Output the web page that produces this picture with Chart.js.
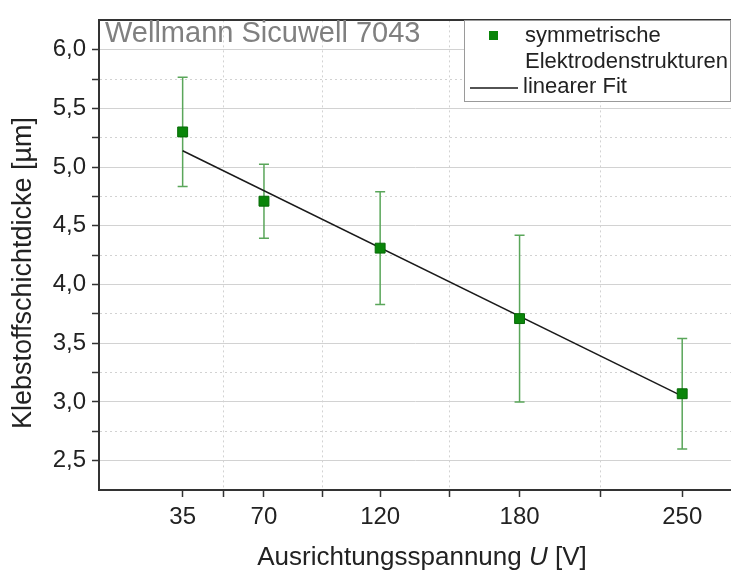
<!DOCTYPE html>
<html>
<head>
<meta charset="utf-8">
<script src="https://cdn.jsdelivr.net/npm/chart.js@4.4.1/dist/chart.umd.min.js"></script>
<style>
  html, body { margin: 0; padding: 0; background: #fff; }
</style>
</head>
<body>
<canvas id="chart" width="731" height="571"></canvas>
<script>
// ---------- Data ----------
const voltages = [35, 70, 120, 180, 250];
const thickness = [5.30, 4.71, 4.31, 3.71, 3.07];
const thicknessErr = [0.465, 0.315, 0.48, 0.71, 0.47];

const fitX = [35, 250];
const fitY = [5.14, 3.05];

const xMajorTicks = [35, 70, 120, 180, 250];
const xMinorTicks = [52.5, 95, 150, 215];
const yMajorTicks = [2.5, 3.0, 3.5, 4.0, 4.5, 5.0, 5.5, 6.0];
const yMinorTicks = [2.75, 3.25, 3.75, 4.25, 4.75, 5.25, 5.75];

const chartTitle = "Wellmann Sicuwell 7043";
const seriesLabel = ["symmetrische", "Elektrodenstrukturen"];
const fitLabel = "linearer Fit";
const yTitle = "Klebstoffschichtdicke [µm]";
const xTitleParts = [["Ausrichtungsspannung ", ""], ["U", "italic "], [" [V]", ""]];

// ---------- Helpers ----------
const FONT = "'Liberation Sans', Arial, sans-serif";
const GREEN = "#0a850a";
const AXIS = "#333";
const GRID = "#d2d2d2";

Chart.defaults.font.family = FONT;
Chart.defaults.color = "#222";

function tickList(a, b) {
    return a.concat(b).sort((p, q) => p - q).map(v => ({ value: v }));
}

// error bars, headline, axis titles and legend
const extras = {
    id: "extras",
    beforeDatasetsDraw(chart) {
        const ctx = chart.ctx, xs = chart.scales.x, ys = chart.scales.y;
        ctx.save();
        ctx.strokeStyle = "#5aa65a";
        ctx.lineWidth = 1.5;
        voltages.forEach((v, i) => {
            const px = xs.getPixelForValue(v);
            const top = ys.getPixelForValue(thickness[i] + thicknessErr[i]);
            const bot = ys.getPixelForValue(thickness[i] - thicknessErr[i]);
            ctx.beginPath();
            ctx.moveTo(px, top); ctx.lineTo(px, bot);
            ctx.moveTo(px - 5, top); ctx.lineTo(px + 5, top);
            ctx.moveTo(px - 5, bot); ctx.lineTo(px + 5, bot);
            ctx.stroke();
        });
        ctx.restore();
    },
    afterDraw(chart) {
        const ctx = chart.ctx, area = chart.chartArea;
        ctx.save();

        // headline inside the plot
        ctx.fillStyle = "#808080";
        ctx.font = "29px " + FONT;
        ctx.textBaseline = "alphabetic";
        ctx.textAlign = "left";
        ctx.fillText(chartTitle, area.left + 6, 42);

        // x axis title with italic U
        ctx.fillStyle = "#222";
        let total = 0;
        xTitleParts.forEach(p => { ctx.font = p[1] + "26px " + FONT; total += ctx.measureText(p[0]).width; });
        let tx = 422 - total / 2;
        xTitleParts.forEach(p => {
            ctx.font = p[1] + "26px " + FONT;
            ctx.fillText(p[0], tx, 565);
            tx += ctx.measureText(p[0]).width;
        });

        // y axis title
        ctx.save();
        ctx.translate(24, 273);
        ctx.rotate(-Math.PI / 2);
        ctx.font = "27px " + FONT;
        ctx.textAlign = "center";
        ctx.textBaseline = "middle";
        ctx.fillText(yTitle, 0, 0);
        ctx.restore();

        // legend
        const lx = 464, ly = 20, lw = 266, lh = 81;
        ctx.fillStyle = "#fff";
        ctx.fillRect(lx, ly, lw, lh);
        ctx.strokeStyle = "#9a9a9a";
        ctx.lineWidth = 1;
        ctx.strokeRect(lx + 0.5, ly + 0.5, lw, lh);

        ctx.fillStyle = GREEN;
        ctx.fillRect(489, 31, 9, 9);

        ctx.strokeStyle = "#1a1a1a";
        ctx.lineWidth = 1.5;
        ctx.beginPath();
        ctx.moveTo(470, 88); ctx.lineTo(518, 88);
        ctx.stroke();

        ctx.fillStyle = "#222";
        ctx.font = "22px " + FONT;
        ctx.textBaseline = "middle";
        ctx.textAlign = "left";
        ctx.fillText(seriesLabel[0], 525, 36);
        ctx.fillText(seriesLabel[1], 525, 62);
        ctx.fillText(fitLabel, 523, 87);

        ctx.restore();
    }
};

// ---------- Chart ----------
new Chart(document.getElementById("chart").getContext("2d"), {
    type: "scatter",
    data: {
        datasets: [
            {
                label: seriesLabel.join(" "),
                data: voltages.map((v, i) => ({ x: v, y: thickness[i] })),
                pointStyle: "rect",
                pointRadius: 7,
                backgroundColor: GREEN,
                borderColor: "#076a07",
                borderWidth: 1,
                order: 0
            },
            {
                type: "line",
                label: fitLabel,
                data: fitX.map((v, i) => ({ x: v, y: fitY[i] })),
                borderColor: "#1a1a1a",
                borderWidth: 1.5,
                pointRadius: 0,
                fill: false,
                order: 1
            }
        ]
    },
    options: {
        responsive: false,
        animation: false,
        devicePixelRatio: 1,
        layout: { autoPadding: false, padding: { top: 13, left: 0, right: 0, bottom: 0 } },
        plugins: { legend: { display: false }, tooltip: { enabled: false } },
        scales: {
            x: {
                type: "linear",
                min: -1, max: 271,
                afterBuildTicks: s => { s.ticks = tickList(xMajorTicks, xMinorTicks); },
                afterFit: s => { s.height = 81; s.paddingRight = 0; s.paddingLeft = 0; },
                ticks: {
                    autoSkip: false, maxRotation: 0, padding: 6,
                    font: { size: 24 }, color: "#222",
                    callback: v => xMajorTicks.includes(v) ? String(v) : ""
                },
                grid: {
                    tickLength: 7, tickColor: AXIS, tickWidth: 1.5,
                    color: c => (c.tick && xMinorTicks.includes(c.tick.value)) ? GRID : "rgba(0,0,0,0)"
                },
                border: { color: AXIS, width: 2, dash: [2, 3] }
            },
            xTop: {
                type: "linear", position: "top",
                min: -1, max: 271,
                afterFit: s => { s.height = 0; s.paddingRight = 0; s.paddingLeft = 0; },
                ticks: { display: false },
                grid: { display: false, drawTicks: false },
                border: { display: true, color: AXIS, width: 2 }
            },
            y: {
                min: 2.25, max: 6.25,
                afterBuildTicks: s => { s.ticks = tickList(yMajorTicks, yMinorTicks); },
                afterFit: s => { s.width = 99; },
                ticks: {
                    autoSkip: false, padding: 6,
                    font: { size: 24 }, color: "#222",
                    callback: v => yMajorTicks.includes(v) ? v.toFixed(1).replace(".", ",") : ""
                },
                grid: { tickLength: 7, tickColor: AXIS, tickWidth: 1.5, color: GRID },
                border: {
                    color: AXIS, width: 2,
                    dash: c => (c.tick && yMinorTicks.includes(c.tick.value)) ? [2, 3] : []
                }
            }
        }
    },
    plugins: [extras]
});
</script>
</body>
</html>
